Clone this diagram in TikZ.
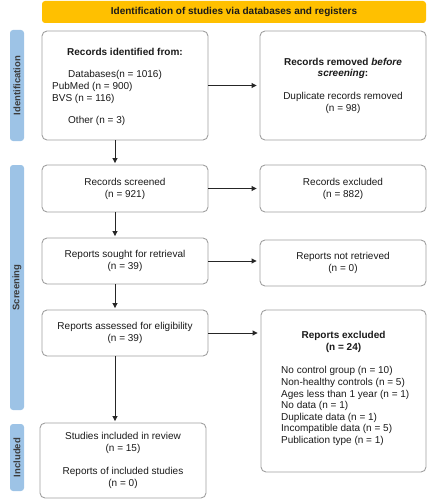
\documentclass[tikz,border=0pt]{standalone}
\usepackage{fontspec}
\setmainfont{Liberation Sans}
\usetikzlibrary{arrows.meta,calc}
\definecolor{bannerc}{HTML}{FFC000}
\definecolor{sidec}{HTML}{9DC3E6}
\definecolor{boxline}{HTML}{A0A0A0}
\definecolor{txt}{HTML}{1A1A1A}
\begin{document}
\begin{tikzpicture}[x=1pt,y=-1pt,
  font=\fontsize{10}{12}\selectfont, text=txt,
  box/.style={draw=boxline, line width=0.9pt, rounded corners=5pt, fill=white, inner sep=0pt, minimum width=#1},
  box/.default=166pt,
  banner/.style={fill=bannerc, rounded corners=3pt, inner sep=0pt, font=\fontsize{10}{12}\selectfont\bfseries},
  side/.style={fill=sidec, rounded corners=3pt, inner sep=0pt, minimum width=14pt},
  sidetxt/.style={rotate=90, font=\fontsize{9.5}{11}\selectfont\bfseries, text=txt!85},
  arr/.style={-{Triangle[length=5pt,width=5pt]}, line width=0.9pt, draw=black!85},
  tx/.style={inner sep=0pt, anchor=base},
  txl/.style={inner sep=0pt, anchor=base west},
  ]
\useasboundingbox (0,0) rectangle (429,500);

% banner
\node[banner, minimum width=384pt, minimum height=22pt] (ban) at (234,12) {Identification of studies via databases and registers};

% side bars
\node[side, minimum height=111pt] (sid) at (17,85.5) {};
\node[sidetxt] at (sid.center) {Identification};
\node[side, minimum height=245pt] (sscr) at (17,287.5) {};
\node[sidetxt] at (sscr.center) {Screening};
\node[side, minimum height=67pt] (sinc) at (17,457.5) {};
\node[sidetxt] at (sinc.center) {Included};

% boxes
\node[box, minimum height=109pt] (id) at (125,85.5) {};
\node[tx, font=\fontsize{10}{12}\selectfont\bfseries] at (125,55.5) {Records identified from:};
\node[txl] at (68,77.5) {Databases(n = 1016)};
\node[txl] at (52,89.5) {PubMed (n = 900)};
\node[txl] at (52,101.5) {BVS (n = 116)};
\node[txl] at (68,123.5) {Other (n = 3)};

\node[box, minimum height=109pt, align=center, font=\fontsize{10}{11.5}\selectfont] (rem) at (343,85.5)
  {\textbf{Records removed \textit{before}}\\\textbf{\textit{screening}:}\\[11.5pt]Duplicate records removed\\(n = 98)};

\node[box, minimum height=47pt, align=center] (scr) at (125,188.5) {Records screened\\(n = 921)};
\node[box, minimum height=47pt, align=center] (exc) at (343,188.5) {Records excluded\\(n = 882)};

\node[box, minimum height=46pt, align=center] (sou) at (125,261) {Reports sought for retrieval\\(n = 39)};
\node[box, minimum height=46pt, align=center] (notr) at (343,263) {Reports not retrieved\\(n = 0)};

\node[box, minimum height=46pt, align=center] (ass) at (125,333) {Reports assessed for eligibility\\(n = 39)};
\node[box=165pt, minimum height=162pt] (exc2) at (343.5,391) {};
\node[inner sep=0pt, align=center, font=\fontsize{10}{11.6}\selectfont\bfseries, anchor=north] at (343.5,331.5) {Reports excluded\\(n = 24)};
\node[inner sep=0pt, align=left, font=\fontsize{10}{11.6}\selectfont, anchor=north west] at (281,366.5)
  {No control group (n = 10)\\Non-healthy controls (n = 5)\\Ages less than 1 year (n = 1)\\No data (n = 1)\\Duplicate data (n = 1)\\Incompatible data (n = 5)\\Publication type (n = 1)};

\node[box, minimum height=75pt, align=center, font=\fontsize{10}{11.6}\selectfont] (inc) at (123,460.5)
  {Studies included in review\\(n = 15)\\[11.6pt]Reports of included studies\\(n = 0)};

% arrows
\coordinate (cx) at (115,0);
\draw[arr, shorten >=1.5pt] (id.south -| cx) -- (scr.north -| cx);
\draw[arr, shorten >=1.5pt] (scr.south -| cx) -- (sou.north -| cx);
\draw[arr, shorten >=1.5pt] (sou.south -| cx) -- (ass.north -| cx);
\draw[arr, shorten >=1.5pt] (ass.south -| cx) -- (inc.north -| cx);
\draw[arr, shorten >=3pt] (id.east) -- (rem.west);
\draw[arr, shorten >=3pt] (scr.east) -- (exc.west);
\draw[arr, shorten >=3pt] (sou.east) -- (sou.east -| notr.west);
\draw[arr, shorten >=3pt] (ass.east) -- (ass.east -| exc2.west);
\end{tikzpicture}
\end{document}
